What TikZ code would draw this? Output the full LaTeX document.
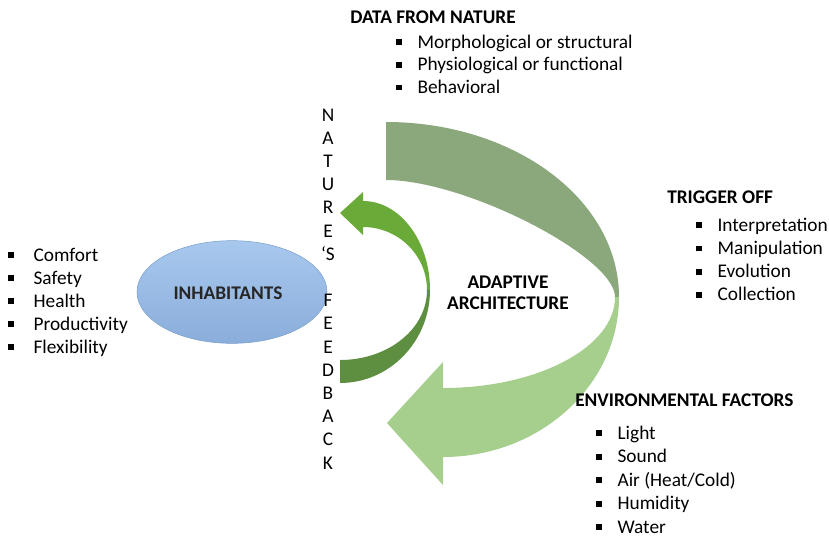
\documentclass[tikz,border=0pt]{standalone}
\usepackage{fontspec}
\setmainfont{Carlito}
\usetikzlibrary{shapes.geometric}

\definecolor{backgreen}{RGB}{139,168,124}
\definecolor{frontgreen}{RGB}{166,206,140}
\definecolor{fbtop}{RGB}{106,170,56}
\definecolor{fbbottom}{RGB}{94,142,64}
\definecolor{ovaltop}{RGB}{168,200,238}
\definecolor{ovalbottom}{RGB}{138,173,218}
\definecolor{ovalline}{RGB}{120,158,208}

\newcommand{\bul}[1][16pt]{\makebox[#1][l]{\rule[2.2pt]{4.2pt}{4.2pt}}}

\begin{document}
\begin{tikzpicture}[x=0.75pt,y=-0.75pt,
    txt/.style={inner sep=0pt, anchor=base west, font=\fontsize{14.5}{17}\selectfont},
    head/.style={txt, font=\fontsize{14.5}{17}\selectfont\bfseries}]
    \useasboundingbox (0,0) rectangle (829,537);

    % big arrow, back side
    \fill[backgreen] (386,122) .. controls (515,122) and (619,200) .. (619,297)
        -- (615,297) .. controls (615,257) and (466,180) .. (386,180) -- cycle;
    % big arrow, front side with head
    \fill[frontgreen] (615,297) .. controls (615,347) and (538,388) .. (443,388)
        -- (443,362) -- (387,423) -- (443,485) -- (443,457)
        .. controls (540,457) and (619,385) .. (619,297) -- cycle;

    % feedback arrow
    \fill[fbbottom] (430,290) .. controls (430,341) and (390,383) .. (340,383)
        -- (340,360) .. controls (388,360) and (427,329) .. (427,290) -- cycle;
    \fill[fbtop] (430,290) .. controls (430,241) and (400,201) .. (363,201)
        -- (363,192) -- (340,213) -- (363,235) -- (363,227)
        .. controls (398,227) and (427,255) .. (427,290) -- cycle;

    % inhabitants
    \node[ellipse, draw=ovalline, top color=ovaltop, bottom color=ovalbottom,
        inner sep=0pt, minimum width=142.5pt, minimum height=77pt] (inhabitants) at (232,292) {};
    \node[font=\fontsize{14.5}{17}\selectfont\bfseries, text=black!85] (inhlabel) at (228,293) {INHABITANTS};

    \foreach \txt [count=\i] in {Comfort,Safety,Health,Productivity,Flexibility}
        \node[txt] (need\i) at (8,{261+23*(\i-1)}) {\bul[19pt]\txt};

    % vertical label
    \foreach \ch [count=\i] in {N,A,T,U,R,E,‘S,{},F,E,E,D,B,A,C,K}
        \node[txt, anchor=base] (fb\i) at (328,{121+23.2*(\i-1)}) {\ch};

    \node[head] (data) at (350,23) {DATA FROM NATURE};
    \foreach \txt [count=\i] in {Morphological or structural,Physiological or functional,Behavioral}
        \node[txt] (data\i) at (396,{48+22.7*(\i-1)}) {\bul\txt};

    \node[head] (trigger) at (667,203) {TRIGGER OFF};
    \foreach \txt [count=\i] in {Interpretation,Manipulation,Evolution,Collection}
        \node[txt] (trig\i) at (696,{231+23.3*(\i-1)}) {\bul\txt};

    \node[head] (env) at (575,406) {ENVIRONMENTAL FACTORS};
    \foreach \txt [count=\i] in {Light,Sound,Air (Heat/Cold),Humidity,Water}
        \node[txt] (env\i) at (596,{439+23.5*(\i-1)}) {\bul\txt};

    \node[head, anchor=base] (adaptive) at (508,288) {ADAPTIVE};
    \node[head, anchor=base] (architecture) at (508,309) {ARCHITECTURE};
\end{tikzpicture}
\end{document}
